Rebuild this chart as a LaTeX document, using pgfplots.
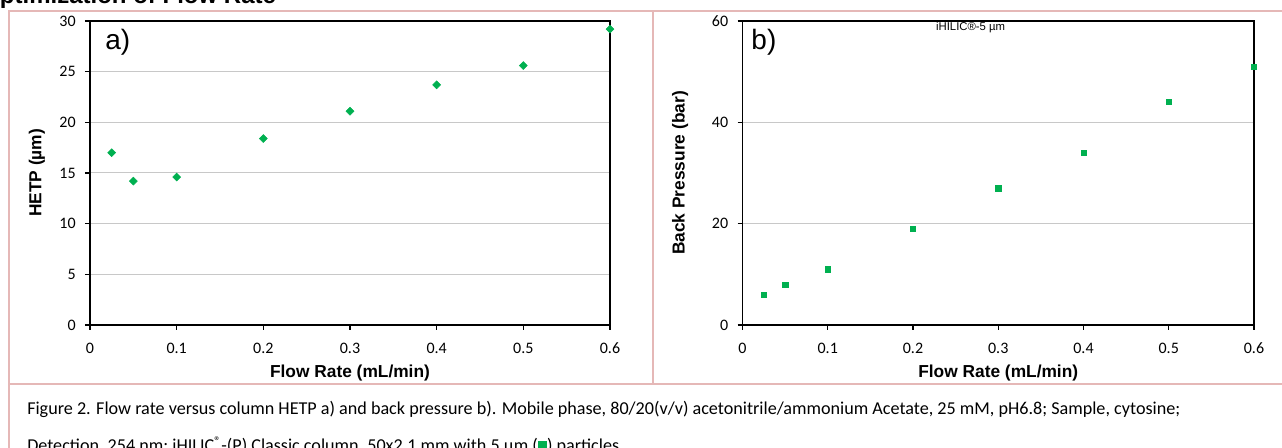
\documentclass[border=0pt]{standalone}
\usepackage{fontspec}
\setmainfont{Carlito}
\newfontfamily\arial{Liberation Sans}
\usepackage{pgfplots}
\pgfplotsset{compat=1.18}

\definecolor{ptgreen}{RGB}{0,176,80}
\definecolor{pinkline}{RGB}{229,184,183}
\definecolor{gridgray}{RGB}{200,200,200}

% shared look of both panels
\pgfplotsset{
  panel/.style={
    scale only axis,
    height=228pt,
    xmin=0, xmax=0.6, ymin=0,
    xtick={0,0.1,0.2,0.3,0.4,0.5,0.6},
    tick align=outside, xtick pos=bottom, ytick pos=left,
    major tick length=3.75pt,
    axis line style={line width=1pt},
    tick style={black, line width=1pt},
    ymajorgrids,
    major grid style={gridgray, line width=0.75pt},
    tick label style={font=\fontsize{12}{12}\selectfont},
    xticklabel style={yshift=-6pt},
    yticklabel style={xshift=-3.5pt},
    /pgf/number format/assume math mode=true,
    label style={font=\arial\bfseries\fontsize{13}{13}\selectfont},
    xlabel={Flow Rate (mL/min)},
    xlabel style={at={(axis description cs:0.5,-0.157)}, anchor=center},
    clip=false,
  }
}

\begin{document}
\begin{tikzpicture}
\useasboundingbox (0,0) rectangle (961.5pt,336pt);

% table borders
\draw[pinkline, line width=1pt] (6.75pt,-10pt) -- (6.75pt,327.75pt) -- (970pt,327.75pt);
\draw[pinkline, line width=1pt] (6.75pt,48pt) -- (970pt,48pt);
\draw[pinkline, line width=1pt] (489.75pt,48pt) -- (489.75pt,327.75pt);

% cut-off heading
\node[anchor=base west, inner sep=0pt, font=\arial\bfseries\fontsize{18}{18}\selectfont]
  at (-14.25pt,333.4pt) {Optimization of Flow Rate};

% a) HETP
\begin{axis}[panel,
  at={(67.5pt,92.25pt)}, anchor=south west,
  width=390pt,
  ymax=30, ytick={0,5,10,15,20,25,30},
  ylabel={HETP (µm)},
  ylabel style={at={(axis description cs:-0.102,0.5)}, anchor=center},
]
\addplot[only marks, mark=square*, mark size=2.1pt, mark options={rotate=45, fill=ptgreen, draw=ptgreen}]
  coordinates {(0.025,17.0) (0.05,14.2) (0.1,14.6) (0.2,18.4) (0.3,21.1) (0.4,23.7) (0.5,25.6) (0.6,29.2)};
\node[anchor=base west, inner sep=0pt, font=\arial\fontsize{21}{21}\selectfont]
  at (axis description cs:0.029,0.905) {a)};
\end{axis}

% b) back pressure
\begin{axis}[panel,
  at={(556.875pt,92.25pt)}, anchor=south west,
  width=383.625pt,
  ymax=60, ytick={0,20,40,60},
  ylabel={Back Pressure (bar)},
  ylabel style={at={(axis description cs:-0.122,0.5)}, anchor=center},
]
\addplot[only marks, mark=square*, mark size=2pt, mark options={fill=ptgreen, draw=ptgreen}]
  coordinates {(0.025,6) (0.05,8) (0.1,11) (0.2,19) (0.3,27) (0.4,34) (0.5,44) (0.6,51)};
\node[anchor=base west, inner sep=0pt, font=\arial\fontsize{21}{21}\selectfont]
  at (axis description cs:0.017,0.905) {b)};
\node[anchor=center, inner sep=0pt, font=\arial\fontsize{8.5}{8.5}\selectfont]
  at (axis description cs:0.446,0.98) {iHILIC®-5 µm};
\end{axis}

% caption
\node[anchor=base west, inner sep=0pt, font=\fontsize{13.6}{13.6}\selectfont] at (20.25pt,24.75pt)
  {Figure 2. Flow rate versus column HETP a) and back pressure b). Mobile phase, 80/20(v/v) acetonitrile/ammonium Acetate, 25 mM, pH6.8; Sample, cytosine;};
\node[anchor=base west, inner sep=0pt, font=\fontsize{13.6}{13.6}\selectfont] at (20.25pt,-3pt)
  {Detection, 254 nm; iHILIC\textsuperscript{®}-(P) Classic column, 50x2.1 mm with 5 µm (\textcolor{ptgreen}{\rule{0.5em}{0.62em}}) particles};
\end{tikzpicture}
\end{document}
